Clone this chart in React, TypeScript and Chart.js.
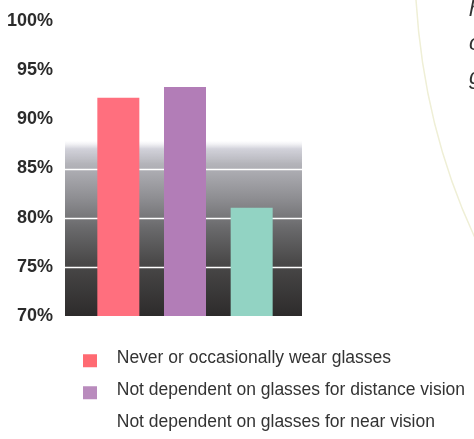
import React, { useEffect, useRef } from 'react';
import { Chart, registerables } from 'chart.js';

Chart.register(...registerables);

// ---- data ----
const categories: string[] = [
  'Never or occasionally wear glasses',
  'Not dependent on glasses for distance vision',
  'Not dependent on glasses for near vision',
];
const values: number[] = [92.2, 93.3, 81.0];
const barColors: string[] = ['#ff6f7e', '#b27db7', '#92d3c3'];
const legendSwatchColors: (string | null)[] = ['#ff6a72', '#b98bbd', null];
const yMin = 70;
const yMax = 100;
const yStep = 5;
const gridValues: number[] = [75, 80, 85];
const sideLetters: string[] = ['h', 'c', 'g'];

function makeSwatch(color: string | null): HTMLCanvasElement {
  const c = document.createElement('canvas');
  c.width = 25;
  c.height = 20;
  const g = c.getContext('2d')!;
  if (color) {
    g.fillStyle = color;
    g.fillRect(0, 6, 14, 13);
  }
  return c;
}

const hiddenAxis = (pos: string, size: number) => ({
  position: pos,
  display: true,
  ticks: { display: false },
  grid: { display: false, drawTicks: false },
  border: { display: false },
  afterFit(s: any) {
    if (pos === 'left' || pos === 'right') s.width = size;
    else s.height = size;
  },
});

const backdropPlugin = {
  id: 'backdrop',
  beforeDraw(chart: any) {
    const ctx = chart.ctx;
    ctx.save();
    ctx.strokeStyle = '#efefd6';
    ctx.lineWidth = 1.5;
    ctx.beginPath();
    ctx.moveTo(416, 0);
    ctx.quadraticCurveTo(424, 130, 476, 240);
    ctx.stroke();
    ctx.restore();
  },
  beforeDatasetsDraw(chart: any) {
    const { ctx, chartArea, scales } = chart;
    const y = scales.y;
    const left = chartArea.left - 20;
    const right = chartArea.right + 17;
    const top = y.getPixelForValue(87.8);
    const bottom = y.getPixelForValue(70);
    const grad = ctx.createLinearGradient(0, top, 0, bottom);
    const stop = (v: number) => (y.getPixelForValue(v) - top) / (bottom - top);
    grad.addColorStop(0, 'rgba(225,225,232,0)');
    grad.addColorStop(stop(87), 'rgba(205,205,214,0.9)');
    grad.addColorStop(stop(85.5), '#b4b4ba');
    grad.addColorStop(stop(82), '#8e8e92');
    grad.addColorStop(stop(79), '#6a6a6c');
    grad.addColorStop(stop(75.5), '#4a4949');
    grad.addColorStop(1, '#2d2b2b');
    ctx.save();
    ctx.fillStyle = grad;
    ctx.fillRect(left, top, right - left, bottom - top);
    ctx.strokeStyle = '#ffffff';
    ctx.lineWidth = 1.5;
    gridValues.forEach((v) => {
      const py = Math.round(y.getPixelForValue(v)) + 0.5;
      ctx.beginPath();
      ctx.moveTo(left, py);
      ctx.lineTo(right, py);
      ctx.stroke();
    });
    ctx.restore();
  },
  afterDraw(chart: any) {
    const ctx = chart.ctx;
    ctx.save();
    ctx.fillStyle = '#333333';
    ctx.font = 'italic 22px "Liberation Sans", Arial, sans-serif';
    ctx.textBaseline = 'alphabetic';
    ctx.textAlign = 'left';
    sideLetters.forEach((t, i) => {
      ctx.fillText(t, 469, 16 + i * 34);
    });
    ctx.restore();
  },
};

const legendShiftPlugin = {
  id: 'legendShift',
  afterLayout(chart: any) {
    const lg = chart.legend;
    if (lg) {
      lg.left = 68.5;
      lg.top = 335;
    }
  },
};

export default function App() {
  const ref = useRef<HTMLCanvasElement | null>(null);

  useEffect(() => {
    document.body.style.margin = '0';
    const canvas = ref.current!;
    const swatches = legendSwatchColors.map(makeSwatch);
    const chart = new Chart(canvas, {
      type: 'bar',
      data: {
        labels: categories,
        datasets: [
          {
            data: values,
            xAxisID: 'x',
            yAxisID: 'y',
            backgroundColor: barColors,
            borderWidth: 0,
            barPercentage: 0.63,
            categoryPercentage: 1,
          },
        ],
      },
      options: {
        responsive: false,
        animation: false,
        devicePixelRatio: 1,
        layout: { padding: { top: 21, left: 0, right: 0, bottom: 0 } },
        scales: {
          x: hiddenAxis('bottom', 17),
          yPad: hiddenAxis('left', 32),
          y: {
            position: 'left',
            min: yMin,
            max: yMax,
            ticks: {
              stepSize: yStep,
              padding: 0,
              color: '#2b2b2b',
              font: { family: '"Liberation Sans", Arial, sans-serif', size: 18, weight: 'bold' },
              callback: (v: any) => `${v}%`,
            },
            grid: { display: false, drawTicks: false },
            border: { display: false },
            afterFit(s: any) {
              s.width = 53;
            },
          },
          y2: hiddenAxis('right', 189),
        },
        plugins: {
          tooltip: { enabled: false },
          legend: {
            display: true,
            position: 'bottom',
            align: 'start',
            labels: {
              usePointStyle: true,
              pointStyleWidth: 25,
              boxHeight: 13,
              padding: 14.5,
              color: '#333333',
              font: { family: '"Liberation Sans", Arial, sans-serif', size: 17.5 },
              generateLabels: () =>
                categories.map((c, i) => ({
                  text: c,
                  fillStyle: legendSwatchColors[i] || 'rgba(0,0,0,0)',
                  strokeStyle: 'rgba(0,0,0,0)',
                  lineWidth: 0,
                  pointStyle: swatches[i],
                  hidden: false,
                  index: i,
                  datasetIndex: 0,
                  fontColor: '#333333',
                })),
            },
          },
        },
      } as any,
      plugins: [backdropPlugin, legendShiftPlugin],
    });
    return () => chart.destroy();
  }, []);

  return (
    <div style={{ width: 474, height: 439, background: '#ffffff' }}>
      <canvas ref={ref} width={474} height={439} style={{ display: 'block' }} />
    </div>
  );
}
